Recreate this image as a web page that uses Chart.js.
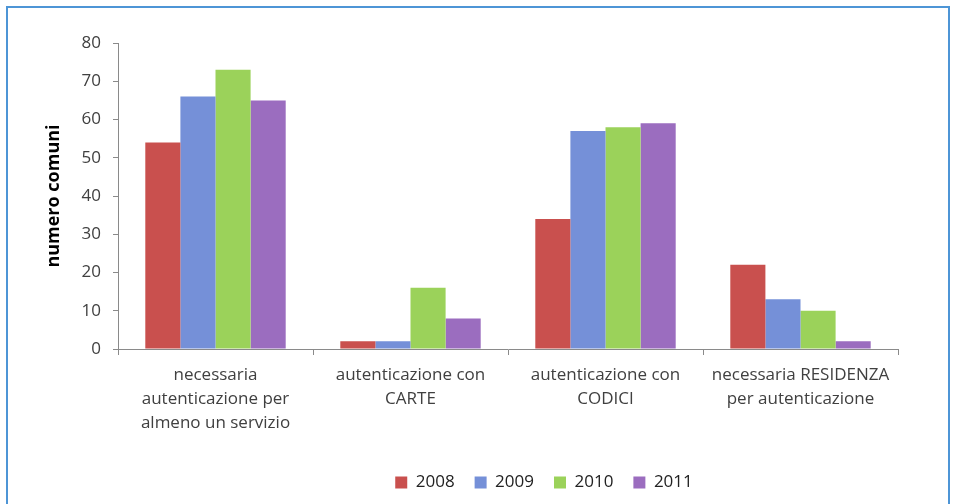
<!DOCTYPE html>
<html>
<head>
<meta charset="utf-8">
<script src="https://cdn.jsdelivr.net/npm/chart.js@4/dist/chart.umd.min.js"></script>
<style>
  body { margin: 0; background: #fff; }
  #wrap { position: relative; width: 953px; height: 504px; overflow: hidden; }
  #frame {
    position: absolute; left: 6px; top: 6px; width: 940px; height: 600px;
    border: 2px solid #4d95d6; pointer-events: none;
  }
</style>
</head>
<body>
<div id="wrap">
  <canvas id="myChart"></canvas>
  <div id="frame"></div>
</div>
<script>
'use strict';

// DATA
let categories = [
  ['necessaria', 'autenticazione per', 'almeno un servizio'],
  ['autenticazione con', 'CARTE'],
  ['autenticazione con', 'CODICI'],
  ['necessaria RESIDENZA', 'per autenticazione']
];
let years = ['2008', '2009', '2010', '2011'];
let values2008 = [54, 2, 34, 22];
let values2009 = [66, 2, 57, 13];
let values2010 = [73, 16, 58, 10];
let values2011 = [65, 8, 59, 2];
let yTicks = [0, 10, 20, 30, 40, 50, 60, 70, 80];

let colors = ['#c9504e', '#7590d8', '#9bd25a', '#9b6dbf'];
let allValues = [values2008, values2009, values2010, values2011];

let datasets = [];
for (let i = 0; i < years.length; i++) {
  datasets.push({
    label: years[i],
    data: allValues[i],
    backgroundColor: colors[i],
    borderWidth: 0
  });
}

// move the legend like in the original (a bit right and down)
const legendShift = {
  id: 'legendShift',
  afterLayout(chart) {
    chart.legend.left += 95;
    chart.legend.right += 95;
    chart.legend.top += 2;
    chart.legend.bottom += 2;
  }
};

const config = {
  type: 'bar',
  data: { labels: categories, datasets: datasets },
  options: {
    responsive: true,
    maintainAspectRatio: false,
    animation: false,
    layout: { padding: { left: 0, right: 55, top: 43, bottom: 5 } },
    datasets: { bar: { categoryPercentage: 0.72, barPercentage: 1.0 } },
    plugins: {
      tooltip: { enabled: false },
      legend: {
        position: 'bottom',
        labels: {
          boxWidth: 12,
          boxHeight: 12,
          padding: 20,
          color: '#222',
          font: { family: 'Open Sans', size: 17 }
        }
      }
    },
    scales: {
      x: {
        afterFit(scale) { scale.height = 103; },
        border: { color: '#8a8a8a' },
        grid: {
          offset: true,
          drawOnChartArea: false,
          tickLength: 6,
          tickColor: '#8a8a8a'
        },
        ticks: {
          autoSkip: false,
          maxRotation: 0,
          padding: 8,
          color: '#404040',
          font: { family: 'Open Sans', size: 17, lineHeight: 1.42 }
        }
      },
      y: {
        min: 0,
        max: 80,
        afterFit(scale) { scale.width = 118; },
        afterBuildTicks(scale) { scale.ticks = yTicks.map(v => ({ value: v })); },
        border: { color: '#8a8a8a' },
        grid: {
          drawOnChartArea: false,
          tickLength: 5,
          tickColor: '#8a8a8a'
        },
        ticks: {
          padding: 12,
          color: '#404040',
          font: { family: 'Open Sans', size: 17 }
        },
        title: {
          display: true,
          text: 'numero comuni',
          color: '#000',
          padding: { top: 43, bottom: 0 },
          font: { family: 'Open Sans', size: 18, weight: 'bold' }
        }
      }
    }
  },
  plugins: [legendShift]
};

const myChart = new Chart(document.getElementById('myChart'), config);
</script>
</body>
</html>
